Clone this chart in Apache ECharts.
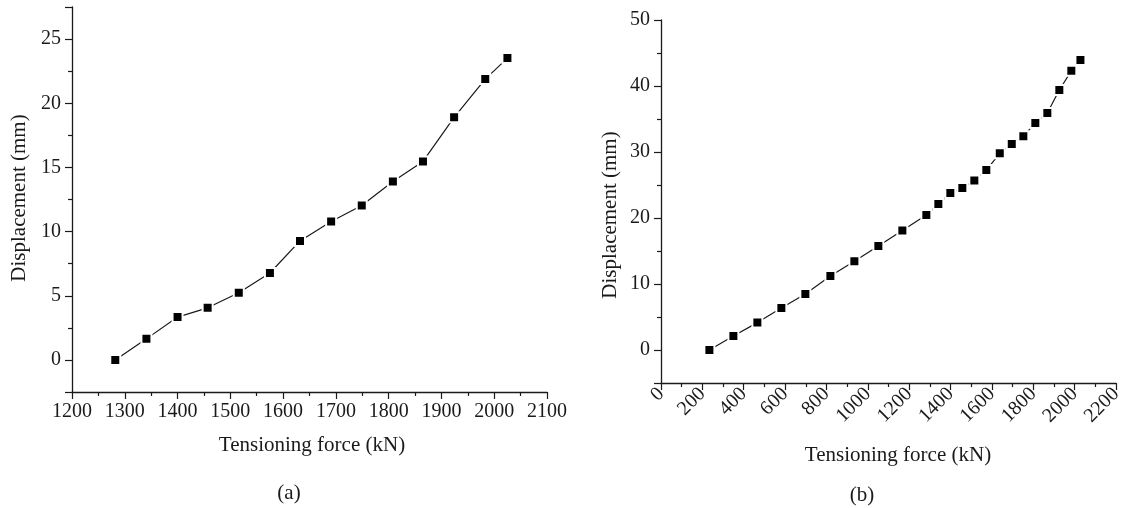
<!DOCTYPE html>
<html>
<head>
<meta charset="utf-8">
<script src="https://cdn.jsdelivr.net/npm/echarts@6/dist/echarts.min.js"></script>
<style>
  html, body { margin: 0; padding: 0; background: #fff; }
  #chart { width: 1128px; height: 508px; }
</style>
</head>
<body>
<div id="chart"></div>
<script>
  // (a) tensioning force vs displacement
  var forceA = [1282, 1341, 1400, 1457, 1516, 1575, 1632, 1691, 1749, 1808, 1865, 1924, 1983, 2025];
  var dispA = [0, 1.64, 3.34, 4.06, 5.23, 6.77, 9.27, 10.78, 12.03, 13.9, 15.47, 18.9, 21.88, 23.52];

  // (b) tensioning force vs displacement
  var forceB = [234, 350, 466, 582, 698, 819, 935, 1051, 1167, 1283, 1341, 1399, 1457, 1515,
                1573, 1638, 1696, 1752, 1810, 1868, 1926, 1984, 2028];
  var dispB = [0, 2.12, 4.15, 6.36, 8.48, 11.2, 13.44, 15.76, 18.1, 20.45, 22.12, 23.79, 24.55, 25.7,
               27.27, 29.8, 31.2, 32.4, 34.4, 35.9, 39.4, 42.3, 43.94];

  var xTitle = 'Tensioning force (kN)';
  var yTitle = 'Displacement (mm)';
  var captions = ['(a)', '(b)'];

  function pairs(xs, ys) {
    var out = [];
    for (var i = 0; i < xs.length; i++) out.push([xs[i], ys[i]]);
    return out;
  }

  var font = 'Liberation Serif';
  var ink = '#1a1a1a';

  var axisLine = { show: true, onZero: false, lineStyle: { color: ink, width: 1.3 } };
  var axisTick = { show: true, inside: false, length: 7, lineStyle: { color: ink, width: 1.2 } };
  var minorTick = { show: true, splitNumber: 2, length: 4, lineStyle: { color: ink, width: 1.2 } };
  var label = {
    color: ink, fontFamily: font, fontSize: 20,
    formatter: function (v) { return String(v); }
  };

  function lineSeries(xi, yi, data) {
    return {
      type: 'line',
      xAxisIndex: xi,
      yAxisIndex: yi,
      data: data,
      symbol: 'rect',
      symbolSize: 10,
      showAllSymbol: true,
      animation: false,
      lineStyle: { color: ink, width: 1.2 },
      itemStyle: { color: '#000', borderColor: '#fff', borderWidth: 2 }
    };
  }

  function txt(x, y, text, rot) {
    return {
      type: 'text',
      x: x,
      y: y,
      rotation: rot || 0,
      style: {
        text: text,
        fill: ink,
        font: '21px "' + font + '"',
        textAlign: 'center',
        textVerticalAlign: 'middle'
      }
    };
  }

  var chart = echarts.init(document.getElementById('chart'));
  chart.setOption({
    backgroundColor: '#fff',
    animation: false,
    grid: [
      { left: 72, top: 7, width: 475, height: 385 },
      { left: 661, top: 20, width: 455, height: 363 }
    ],
    xAxis: [
      {
        type: 'value', gridIndex: 0, min: 1200, max: 2100, interval: 100,
        axisLine: axisLine, axisTick: axisTick, minorTick: minorTick,
        splitLine: { show: false },
        axisLabel: Object.assign({ margin: 10 }, label)
      },
      {
        type: 'value', gridIndex: 1, min: 0, max: 2200, interval: 200,
        axisLine: axisLine, axisTick: axisTick, minorTick: minorTick,
        splitLine: { show: false },
        axisLabel: Object.assign({ margin: 8, rotate: 45 }, label)
      }
    ],
    yAxis: [
      {
        type: 'value', gridIndex: 0, min: -2.5, max: 27.5, minInterval: 5, maxInterval: 5,
        axisLine: axisLine, axisTick: axisTick, minorTick: minorTick,
        splitLine: { show: false },
        axisLabel: Object.assign({ margin: 11, showMinLabel: false, showMaxLabel: false }, label)
      },
      {
        type: 'value', gridIndex: 1, min: -5, max: 50, minInterval: 10, maxInterval: 10,
        axisLine: axisLine, axisTick: axisTick, minorTick: minorTick,
        splitLine: { show: false },
        axisLabel: Object.assign({ margin: 11, showMinLabel: false }, label)
      }
    ],
    series: [
      lineSeries(0, 0, pairs(forceA, dispA)),
      lineSeries(1, 1, pairs(forceB, dispB))
    ],
    graphic: [
      txt(19, 198, yTitle, Math.PI / 2),
      txt(610, 215, yTitle, Math.PI / 2),
      txt(312, 445, xTitle),
      txt(898, 455, xTitle),
      txt(289, 493, captions[0]),
      txt(862, 495, captions[1])
    ]
  });
</script>
</body>
</html>
